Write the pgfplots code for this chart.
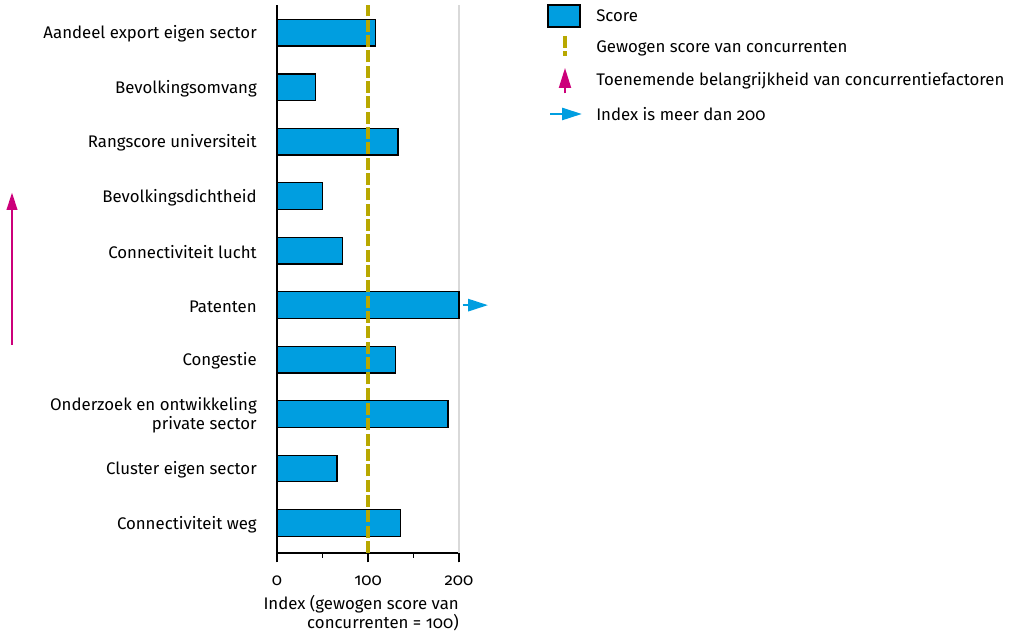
\documentclass[border=0pt]{standalone}
\usepackage{pgfplots}
\pgfplotsset{compat=1.18}
\usepackage{fontspec}
\setmainfont{Fira Sans}[RawFeature=+onum]
\usetikzlibrary{arrows.meta}
\definecolor{barblue}{RGB}{0,158,224}
\definecolor{refolive}{RGB}{184,168,0}
\definecolor{upmagenta}{RGB}{204,0,122}
\definecolor{gridgrey}{RGB}{217,217,217}
\begin{document}
\begin{tikzpicture}[font=\fontsize{12.6}{14.5}\selectfont]
\useasboundingbox (0,0) rectangle (758.25pt,475.5pt);
\begin{axis}[
  at={(207.75pt,60.75pt)}, anchor=south west,
  scale only axis, width=136.5pt, height=411pt,
  xmin=0, xmax=200, ymin=-0.55, ymax=9.51,
  axis x line*=bottom, axis y line*=left,
  axis line style={-, line width=0.9pt},
  xtick={0,100,200}, minor xtick={50,150},
  tick align=outside, major tick length=7pt, minor tick length=3.5pt,
  every tick/.style={black, line width=0.8pt},
  extra x ticks={200}, extra x tick labels={},
  extra x tick style={grid=major, major grid style={gridgrey, line width=0.9pt}},
  ytick={0,...,9},
  yticklabels={Connectiviteit weg, Cluster eigen sector, {Onderzoek en ontwikkeling\\private sector}, Congestie, Patenten, Connectiviteit lucht, Bevolkingsdichtheid, Rangscore universiteit, Bevolkingsomvang, Aandeel export eigen sector},
  ytick style={draw=none},
  yticklabel style={align=right, inner sep=0pt, xshift=-8pt, yshift=-1pt},
  xticklabel style={inner sep=0pt, yshift=-10pt},
  /pgf/number format/assume math mode=true,
  xlabel={Index (gewogen score van\\concurrenten = 100)},
  xlabel style={at={(rel axis cs:1,0)}, anchor=north east, align=right, inner sep=0pt, yshift=-31.5pt},
  clip=false,
]
\addplot[xbar, bar width=20pt, bar shift=0pt, fill=barblue, draw=black, line width=0.9pt]
  coordinates {(136,0) (66,1) (188,2) (130,3) (200,4) (72,5) (50,6) (133,7) (42,8) (108,9)};
\addplot[refolive, line width=2.3pt, dash pattern=on 9pt off 2.5pt]
  coordinates {(100,-0.55) (100,9.51)};
\addplot[barblue, line width=2pt, -{Triangle[length=15pt, width=9pt]}]
  coordinates {(204,4) (232,4)};
\end{axis}
% importance arrow on the far left
\draw[upmagenta, line width=1.5pt, -{Triangle[length=13pt, width=8pt]}] (9pt,216.75pt) -- (9pt,331pt);
% legend
\filldraw[fill=barblue, draw=black, line width=0.9pt] (411pt,455.25pt) rectangle (435pt,471.75pt);
\node[anchor=west, inner sep=0pt] at (447pt,463.5pt) {Score};
\draw[refolive, line width=2.3pt, dash pattern=on 9pt off 2.5pt] (423.75pt,448.5pt) -- (423.75pt,433.5pt);
\node[anchor=west, inner sep=0pt] at (447pt,439.5pt) {Gewogen score van concurrenten};
\draw[upmagenta, line width=1.5pt, -{Triangle[length=15pt, width=9pt]}] (423.75pt,405.5pt) -- (423.75pt,424.5pt);
\node[anchor=west, inner sep=0pt] at (447pt,414.75pt) {Toenemende belangrijkheid van concurrentiefactoren};
\draw[barblue, line width=2pt, -{Triangle[length=15pt, width=9pt]}] (412.5pt,390pt) -- (436.5pt,390pt);
\node[anchor=west, inner sep=0pt] at (447pt,390pt) {Index is meer dan 200};
\end{tikzpicture}
\end{document}
